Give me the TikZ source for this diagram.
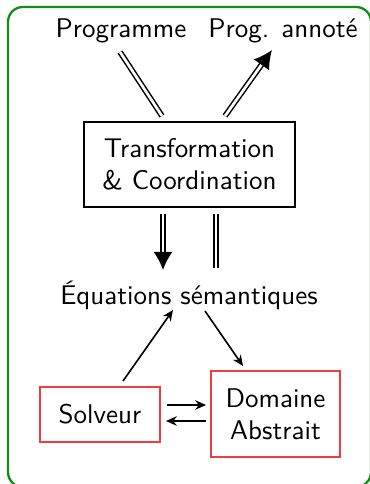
\documentclass[tikz,border=0pt]{standalone}
\usetikzlibrary{arrows.meta}
\definecolor{framegreen}{RGB}{20,140,20}
\definecolor{boxred}{RGB}{240,60,60}
\begin{document}
\begin{tikzpicture}[x=0.37pt,y=-0.37pt,
  every node/.style={font=\sffamily},
  lbl/.style={inner sep=1pt},
  blackbox/.style={draw=black,line width=0.75pt,align=center,inner sep=2pt},
  redbox/.style={draw=boxred,line width=0.75pt,align=center,inner sep=2pt},
  dbl/.style={double,double distance=1.0pt,line width=0.55pt},
  dbltip/.style={dbl,-{Latex[length=6.7pt,width=7pt]}},
  thinarrow/.style={line width=0.6pt,-{Stealth[length=4pt,width=3.5pt]}}]
\useasboundingbox (0,0) rectangle (369,484);
\draw[framegreen,line width=0.85pt,rounded corners=5.5pt] (8,7) rectangle (371,487);

\node[lbl] (prog) at (121,31) {Programme};
\node[lbl] (annot) at (283,31) {Prog. annot\'e};
\node[blackbox,minimum width=78pt,minimum height=31.5pt] (tc) at (189.5,164.5) {Transformation\\ \& Coordination};
\node[lbl] (eq) at (189,295) {\'Equations s\'emantiques};
\node[redbox,minimum width=44.4pt,minimum height=20.4pt] (solv) at (100,414.5) {Solveur};
\node[redbox,minimum width=47.7pt,minimum height=31.8pt] (dom) at (275.5,414) {Domaine\\Abstrait};

\coordinate (p1) at (120,52);
\coordinate (p2) at (162,116);
\coordinate (a1) at (225,116);
\coordinate (a2) at (272,50);
\coordinate (d1) at (163,214);
\coordinate (d2) at (163,270);
\coordinate (e1) at (216,214);
\coordinate (e2) at (216,268);
\coordinate (s1) at (123,381);
\coordinate (s2) at (173,310);
\coordinate (q1) at (205,311);
\coordinate (q2) at (243,366);
\coordinate (r1) at (167,405);
\coordinate (r2) at (206,405);
\coordinate (l1) at (206,421);
\coordinate (l2) at (166,421);

\draw[dbl] (p1) -- (p2);
\draw[dbltip] (a1) -- (a2);
\draw[dbltip] (d1) -- (d2);
\draw[dbl] (e1) -- (e2);
\draw[thinarrow] (s1) -- (s2);
\draw[thinarrow] (q1) -- (q2);
\draw[thinarrow] (r1) -- (r2);
\draw[thinarrow] (l1) -- (l2);
\end{tikzpicture}
\end{document}
